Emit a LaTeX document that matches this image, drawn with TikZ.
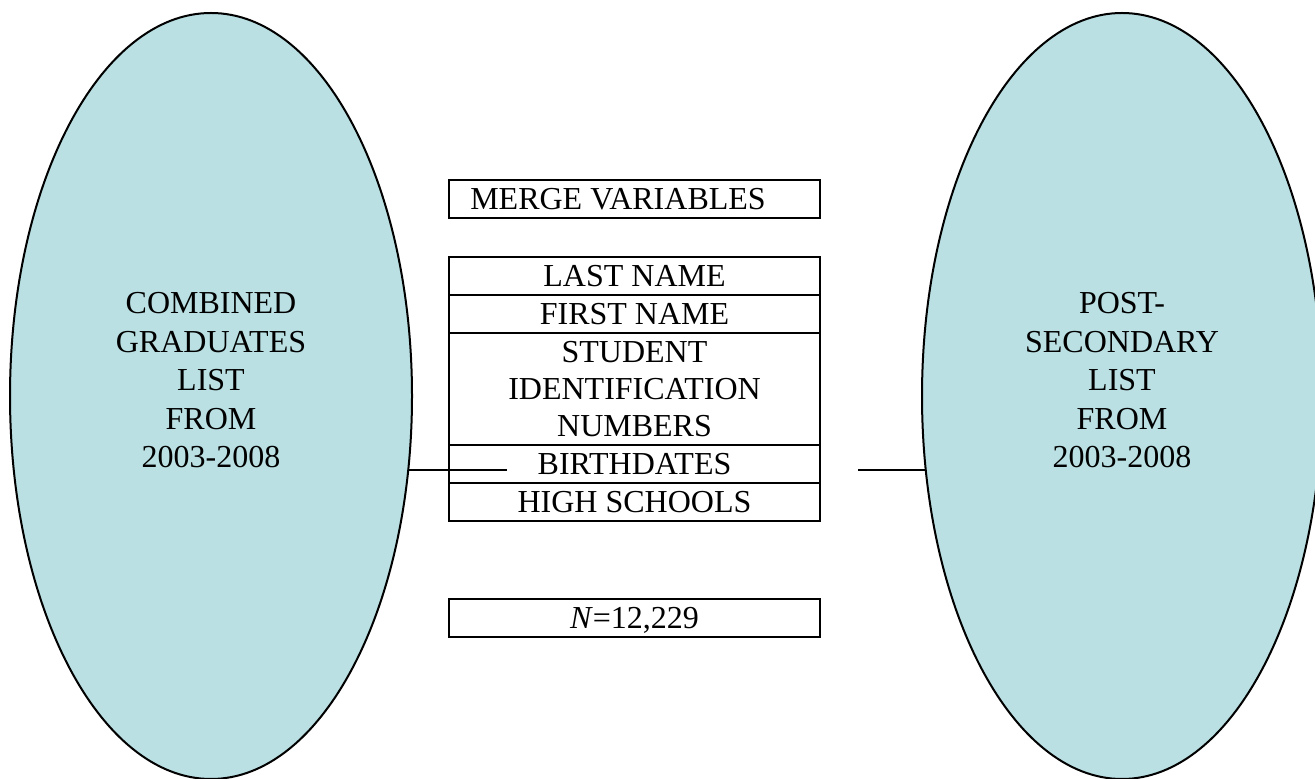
\documentclass[tikz,border=0pt]{standalone}
\usepackage{fontspec}
\setmainfont{Liberation Serif}
\usetikzlibrary{shapes.geometric}
\definecolor{ellfill}{RGB}{186,224,227}
\tikzset{
  ovalshape/.style={ellipse, draw=black, line width=1pt, fill=ellfill, inner sep=0pt,
    minimum width=201pt, minimum height=383pt},
  ovaltext/.style={align=center, font=\fontsize{16pt}{19.25pt}\selectfont, inner sep=0pt},
  cell/.style={rectangle, draw=black, line width=1pt, minimum width=185.5pt,
    minimum height=19pt, inner sep=0pt, text depth=0pt},
  celltext/.style={font=\fontsize{16pt}{18.5pt}\selectfont},
  wire/.style={draw=black, line width=1pt}
}
\begin{document}
\begin{tikzpicture}[x=0.5pt,y=-0.5pt]
\useasboundingbox (0,0) rectangle (1315,779);
\clip (0,0) rectangle (1315,779);
% ellipses
\node[ovalshape] (lell) at (211,396) {};
\node[ovalshape, minimum width=200pt] (rell) at (1122,396) {};
\node[ovaltext] (ltext) at (211,380.5) {COMBINED\\GRADUATES\\LIST\\FROM\\2003-2008};
\node[ovaltext] (rtext) at (1122,380.5) {POST-\\SECONDARY\\LIST\\FROM\\2003-2008};
% boxes
\node[cell] (merge) at (634.5,199) {};
\node[celltext, inner sep=0pt, text depth=0pt] (mergetext) at (618,199) {MERGE VARIABLES};
\node[cell, celltext] (last) at (634.5,276) {LAST NAME};
\node[cell, celltext] (first) at (634.5,314) {FIRST NAME};
\node[cell, celltext, minimum height=56pt, align=center] (sid) at (634.5,389) {STUDENT\\IDENTIFICATION\\NUMBERS};
\node[cell, celltext] (birth) at (634.5,464) {BIRTHDATES};
\node[cell, celltext] (high) at (634.5,502) {HIGH SCHOOLS};
\node[cell, celltext] (nbox) at (634.5,618) {\textit{N}=12,229};
% connectors
\coordinate (lend) at (507,470);
\coordinate (rstart) at (858,470);
\draw[wire] (lell.-20.5 |- lend) -- (lend);
\draw[wire] (rstart) -- (rell.200.4 |- rstart);
\end{tikzpicture}
\end{document}
